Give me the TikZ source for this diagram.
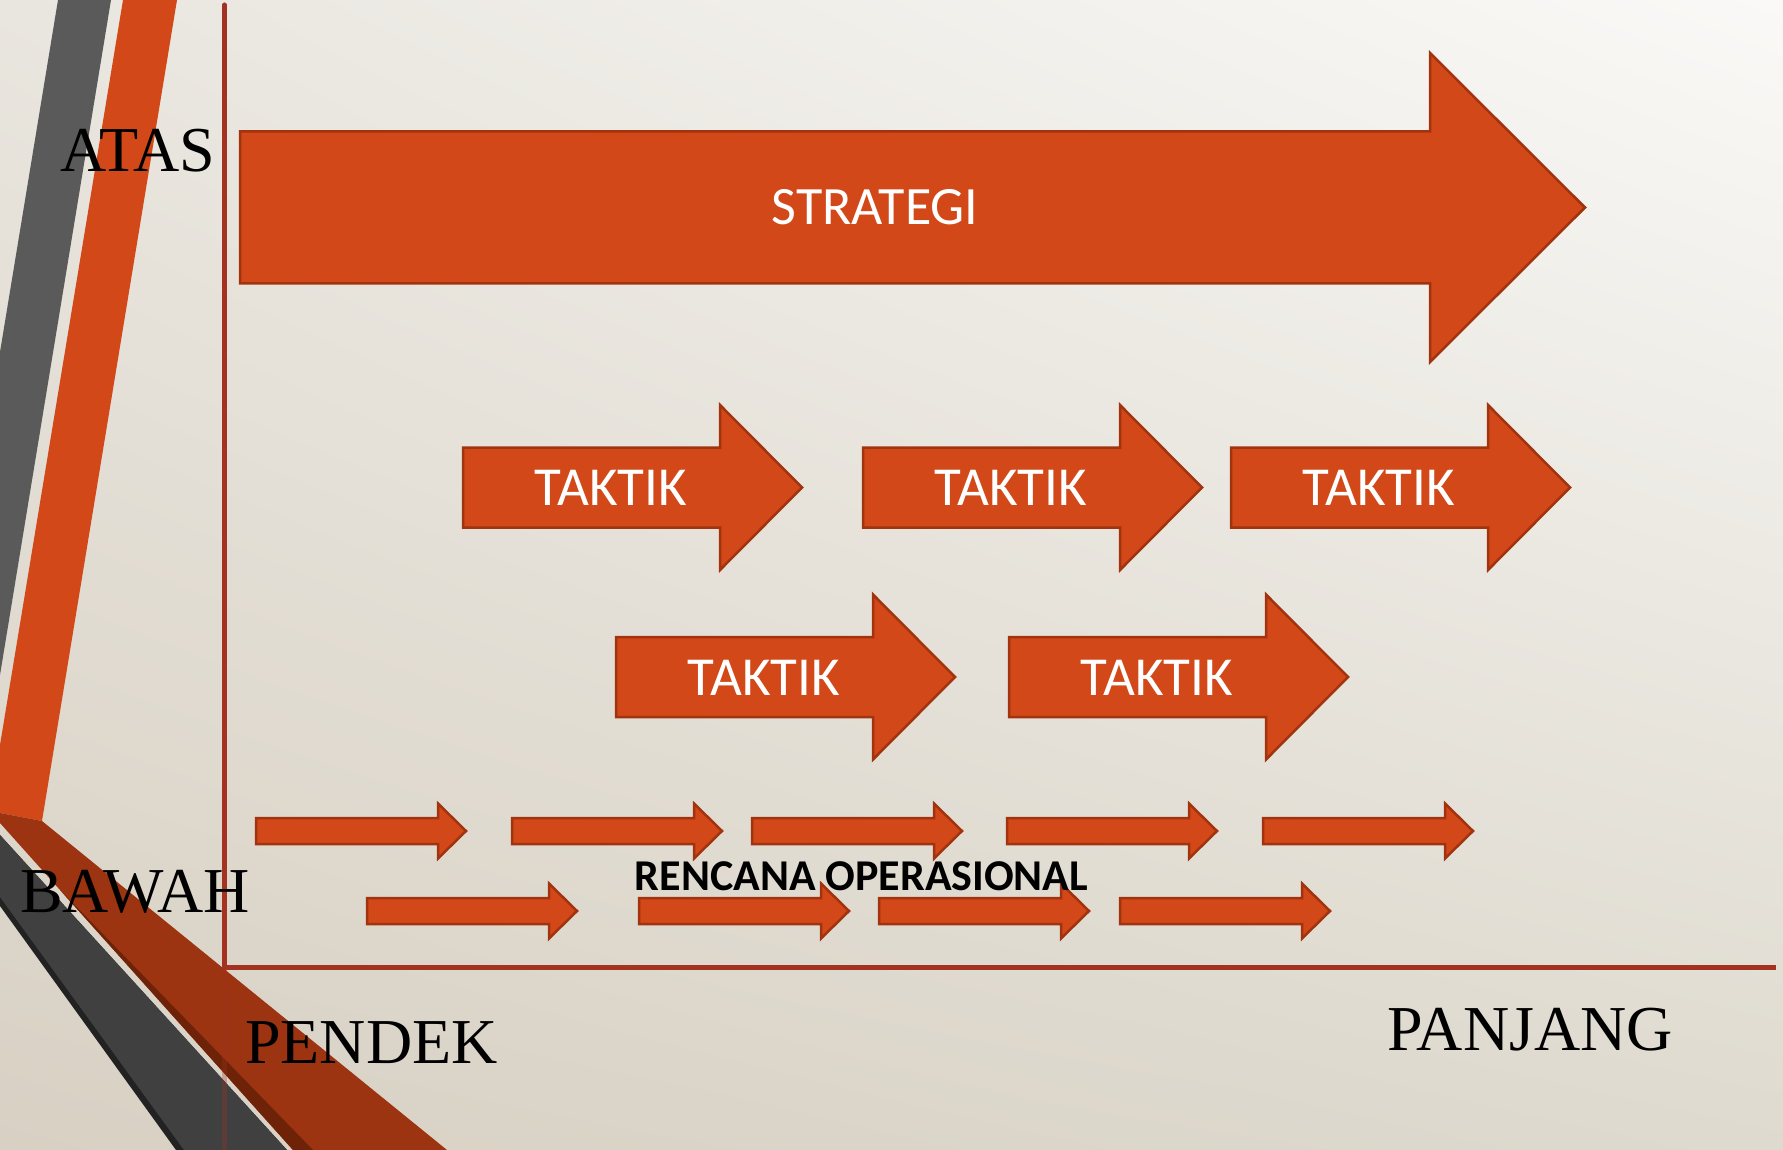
\documentclass[tikz,border=0pt]{standalone}
\usepackage{fontspec}
\usetikzlibrary{shadings}
\setmainfont{Liberation Serif}
\newfontfamily\calib{Carlito}
\definecolor{bgTL}{HTML}{E9E6DF}
\definecolor{bgTR}{HTML}{FAF9F7}
\definecolor{bgBL}{HTML}{D8D0C3}
\definecolor{bgBR}{HTML}{DEDACF}
\definecolor{orangeC}{HTML}{D24818}
\definecolor{borderC}{HTML}{A1340F}
\definecolor{grayC}{HTML}{5A5A5A}
\definecolor{bandgray}{HTML}{404040}
\definecolor{shadowC}{HTML}{222222}
\definecolor{bandred}{HTML}{9C3311}
\definecolor{bandshadow}{HTML}{6E2309}
\definecolor{axisC}{HTML}{A33220}
\newcommand{\rarr}[6]{%
  \draw[arr] (#1,#2-#4) -- (#3-#6,#2-#4) -- (#3-#6,#2-#5) -- (#3,#2)
    -- (#3-#6,#2+#5) -- (#3-#6,#2+#4) -- (#1,#2+#4) -- cycle;}
\begin{document}
\begin{tikzpicture}[x=1pt,y=-1pt,
  arr/.style={fill=orangeC, draw=borderC, line width=2.5pt, line join=miter},
  lbl/.style={font=\fontsize{64}{64}\selectfont, text=black, inner sep=0pt, anchor=base west},
  tak/.style={font=\calib\fontsize{55}{55}\selectfont, text=white, inner sep=0pt, anchor=base},
  axis/.style={draw=axisC, line width=5pt}
]
\useasboundingbox (0,0) rectangle (1783,1150);
\shade[upper left=bgTL, upper right=bgTR, lower left=bgBL, lower right=bgBR] (0,0) rectangle (1783,1150);
% left stripes
\fill[grayC] (58,0) -- (111,0) -- (0,675) -- (0,352) -- cycle;
\fill[orangeC] (123,0) -- (177,0) -- (42,821) -- (0,813) -- (0,745) -- cycle;
% bottom bands
\fill[shadowC] (0,835) -- (287,1150) -- (176,1150) -- (0,906) -- cycle;
\fill[bandgray] (0,835) -- (287,1150) -- (184,1150) -- (0,897) -- cycle;
\fill[bandred] (0,813) -- (42,821) -- (447,1150) -- (293,1150) -- (0,823) -- cycle;
\fill[bandshadow] (60,890) -- (293,1150) -- (313,1150) -- cycle;
% axes
\draw[axis, line cap=round] (224.5,5) -- (224.5,967.5);
\draw[axis] (222,967.5) -- (1776,967.5);
\draw[axis, opacity=0.3] (224.5,967.5) -- (224.5,1150);
% strategy arrow
\rarr{240}{207.5}{1585}{76}{154.5}{155}
% tactic arrows
\rarr{463}{487.5}{802}{40}{82.5}{82}
\rarr{863}{487.5}{1202}{40}{82.5}{82}
\rarr{1231}{487.5}{1570}{40}{82.5}{82}
\rarr{616}{677}{955}{40}{82.5}{82}
\rarr{1009}{677}{1348}{40}{82.5}{82}
% operational arrows
\rarr{256}{831}{466}{13}{27.5}{28}
\rarr{512}{831}{722}{13}{27.5}{28}
\rarr{752}{831}{962}{13}{27.5}{28}
\rarr{1007}{831}{1217}{13}{27.5}{28}
\rarr{1263}{831}{1473}{13}{27.5}{28}
\rarr{367}{911}{577}{13}{27.5}{28}
\rarr{639}{911}{849}{13}{27.5}{28}
\rarr{879}{911}{1089}{13}{27.5}{28}
\rarr{1120}{911}{1330}{13}{27.5}{28}
% texts
\node[tak, font=\calib\fontsize{54}{54}\selectfont] (strat) at (875,225) {STRATEGI};
\node[tak] (t1) at (611,505.5) {TAKTIK};
\node[tak] (t2) at (1011,505.5) {TAKTIK};
\node[tak] (t3) at (1379,505.5) {TAKTIK};
\node[tak] (t4) at (764,695) {TAKTIK};
\node[tak] (t5) at (1157,695) {TAKTIK};
\node[font=\calib\bfseries\fontsize{44}{44}\selectfont, text=black, inner sep=0pt, anchor=base] (renc) at (861.5,890) {RENCANA OPERASIONAL};
\node[lbl] (atas) at (60,172) {ATAS};
\node[lbl] (bawah) at (20,912) {BAWAH};
\node[lbl] (pendek) at (245,1063) {PENDEK};
\node[lbl] (panjang) at (1387,1050) {PANJANG};
\end{tikzpicture}
\end{document}
